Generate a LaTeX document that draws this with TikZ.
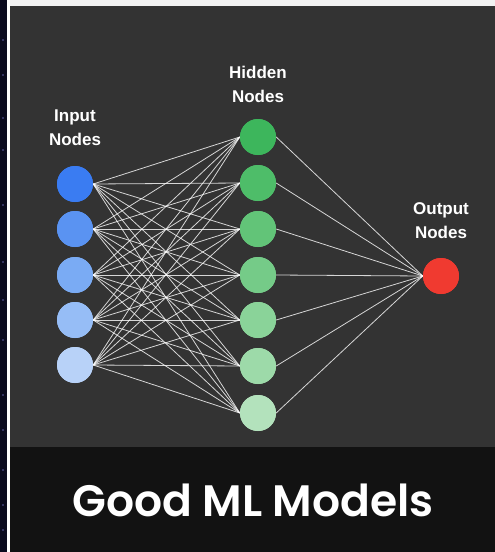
\documentclass[tikz,border=0pt]{standalone}
\usepackage{fontspec}
\setmainfont{Poppins}
\newfontfamily\titlefont{Poppins SemiBold}
\newfontfamily\labfont{Liberation Sans}
\begin{document}
\begin{tikzpicture}[x=1pt,y=-1pt,
  neuron/.style={circle,minimum size=36pt,inner sep=0pt,draw=none},
  wire/.style={white,opacity=0.8,line width=0.8pt},
  lab/.style={text=white,font=\labfont\bfseries\fontsize{17}{24}\selectfont,align=center}]
\definecolor{panel}{HTML}{333333}
\definecolor{band}{HTML}{121212}
\definecolor{strip}{HTML}{0A0A1E}
\definecolor{topstrip}{HTML}{F2F2F2}
\definecolor{iA}{HTML}{3A7CF2}
\definecolor{iB}{HTML}{5A93F2}
\definecolor{iC}{HTML}{7AABF4}
\definecolor{iD}{HTML}{96BDF6}
\definecolor{iE}{HTML}{B8D2F8}
\definecolor{hA}{HTML}{3DB65C}
\definecolor{hB}{HTML}{4EBD69}
\definecolor{hC}{HTML}{62C478}
\definecolor{hD}{HTML}{75CB88}
\definecolor{hE}{HTML}{8AD399}
\definecolor{hF}{HTML}{9DDAA9}
\definecolor{hG}{HTML}{B3E2BC}
\definecolor{outc}{HTML}{F03A30}
\useasboundingbox (0,0) rectangle (495,552);
% backgrounds
\fill[topstrip] (0,0) rectangle (495,6);
\fill[strip] (0,0) rectangle (7,552);
\fill[white] (7,0) rectangle (10,552);
\fill[panel] (10,6) rectangle (495,447);
\fill[band] (10,447) rectangle (495,552);
% stars on left strip
\foreach \yy in {40,75,118,150,205,262,300,340,395,430,470,505,530}
  \fill[blue!40!white,opacity=0.6] (3,\yy) circle (0.9pt);
% nodes
\node[neuron,fill=iA] (i1) at (75,184) {};
\node[neuron,fill=iB] (i2) at (75,229) {};
\node[neuron,fill=iC] (i3) at (75,275) {};
\node[neuron,fill=iD] (i4) at (75,320) {};
\node[neuron,fill=iE] (i5) at (75,365) {};
\node[neuron,fill=hA] (h1) at (258,137) {};
\node[neuron,fill=hB] (h2) at (258,183) {};
\node[neuron,fill=hC] (h3) at (258,229) {};
\node[neuron,fill=hD] (h4) at (258,275) {};
\node[neuron,fill=hE] (h5) at (258,320) {};
\node[neuron,fill=hF] (h6) at (258,366) {};
\node[neuron,fill=hG] (h7) at (258,413) {};
\node[neuron,fill=outc] (o1) at (441,276) {};
% connectors
\foreach \i in {1,...,5}
  \foreach \h in {1,...,7}
    \draw[wire] (i\i.east) -- (h\h.west);
\foreach \h in {1,...,7}
  \draw[wire] (h\h.east) -- (o1.west);
% redraw nodes on top
\foreach \n/\c in {i1/iA,i2/iB,i3/iC,i4/iD,i5/iE,h1/hA,h2/hB,h3/hC,h4/hD,h5/hE,h6/hF,h7/hG,o1/outc}
  \fill[\c] (\n) circle (18pt);
% labels
\node[lab] (linput) at (75,128) {Input\\Nodes};
\node[lab] (lhidden) at (258,84) {Hidden\\Nodes};
\node[lab] (loutput) at (441,221) {Output\\Nodes};
\node[text=white,font=\titlefont\fontsize{44}{50}\selectfont] (title) at (253,500) {Good ML Models};
\end{tikzpicture}
\end{document}
